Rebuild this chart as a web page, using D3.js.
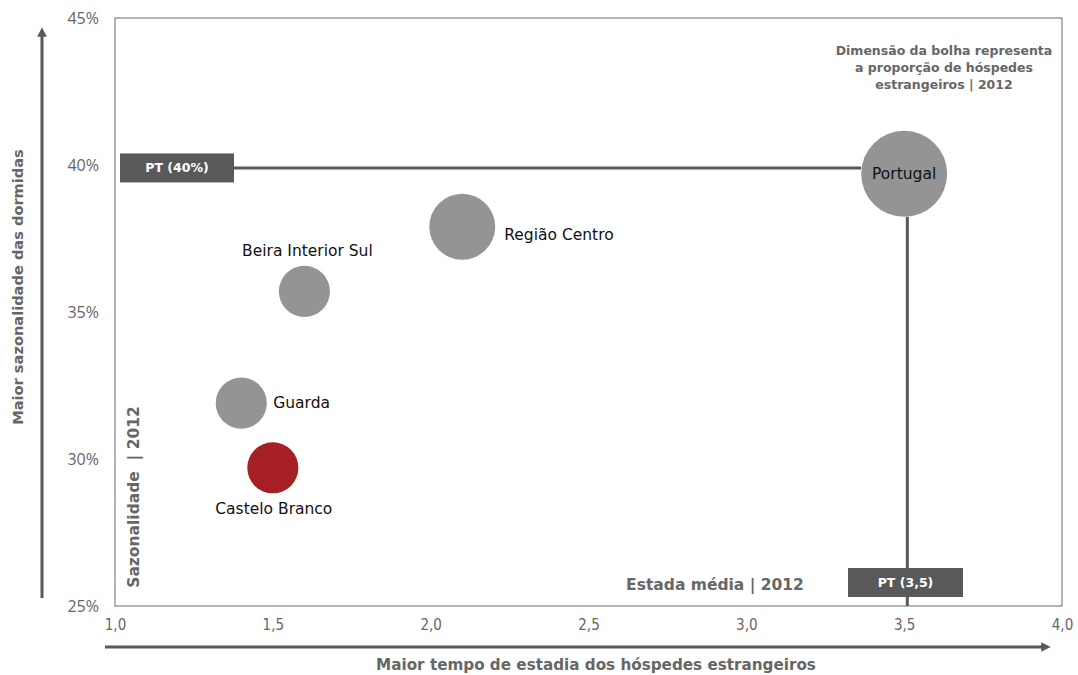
<!DOCTYPE html>
<html><head><meta charset="utf-8">
<script src="https://cdn.jsdelivr.net/npm/d3@7"></script>
<style>
body{margin:0;background:#fff;}
svg{display:block;}
</style></head>
<body>
<svg id="chart" width="1078" height="675"></svg>
<script>
// ---- data ----
const regions = ["Portugal", "Região Centro", "Beira Interior Sul", "Guarda", "Castelo Branco"];
const estadaMedia = [3.5, 2.1, 1.6, 1.4, 1.5];              // x
const sazonalidade = [39.7, 37.9, 35.7, 31.9, 29.7];        // y (%)
const propEstrangeiros = [51, 30, 18, 18, 18];              // bubble size (%)
const xTicks = [1.0, 1.5, 2.0, 2.5, 3.0, 3.5, 4.0];
const yTicks = [25, 30, 35, 40, 45];
const ptRefX = 3.51, ptRefY = 39.9;
const ptLabels = ["PT (40%)", "PT (3,5)"];

const svg = d3.select("#chart");
const L = 115, R = 1062, T = 18, B = 606;
const x = d3.scaleLinear().domain([1, 4]).range([L, R]);
const y = d3.scaleLinear().domain([25, 45]).range([B, T]);
const r = d3.scaleSqrt().domain([0, 51]).range([0, 43]);
const dark = "#595959", grey = "#666";
const fmt = d => d.toFixed(1).replace(".", ",");

// frame
svg.append("rect").attr("x", L).attr("y", T).attr("width", R - L).attr("height", B - T)
  .attr("fill", "none").attr("stroke", "#8c8c8c").attr("stroke-width", 1.3);

// axes
const xa = svg.append("g").attr("transform", `translate(0,${B})`)
  .call(d3.axisBottom(x).tickValues(xTicks).tickFormat(fmt).tickSize(0).tickPadding(13));
xa.select(".domain").remove();
xa.selectAll("text").attr("font-family", "DejaVu Sans Condensed, DejaVu Sans").attr("font-size", 15).attr("fill", grey);

const ya = svg.append("g").attr("transform", `translate(${L},0)`)
  .call(d3.axisLeft(y).tickValues(yTicks).tickFormat(d => d + "%").tickSize(0).tickPadding(16));
ya.select(".domain").remove();
ya.selectAll("text").attr("font-family", "Open Sans").attr("font-size", 16).attr("fill", grey);

// arrows
const defs = svg.append("defs");
defs.append("marker").attr("id", "ah").attr("viewBox", "0 0 10 10").attr("refX", 5).attr("refY", 5)
  .attr("markerWidth", 3.2).attr("markerHeight", 3.2).attr("orient", "auto")
  .append("path").attr("d", "M0,0 L10,5 L0,10 z").attr("fill", dark);
svg.append("line").attr("x1", 42).attr("x2", 42).attr("y1", 598).attr("y2", 32)
  .attr("stroke", dark).attr("stroke-width", 3).attr("marker-end", "url(#ah)");
svg.append("line").attr("x1", 105).attr("x2", 1046).attr("y1", 647).attr("y2", 647)
  .attr("stroke", dark).attr("stroke-width", 3).attr("marker-end", "url(#ah)");

// axis titles
svg.append("text").attr("x", 596).attr("y", 670).attr("text-anchor", "middle")
  .attr("font-family", "DejaVu Sans").attr("font-weight", "bold")
  .attr("font-size", 15.2).attr("fill", grey).text("Maior tempo de estadia dos hóspedes estrangeiros");
svg.append("text").attr("transform", "translate(23,287) rotate(-90)").attr("text-anchor", "middle")
  .attr("font-family", "DejaVu Sans").attr("font-weight", "bold")
  .attr("font-size", 14.6).attr("fill", grey).text("Maior sazonalidade das dormidas");

// reference lines
const pIdx = 0;
svg.append("line").attr("x1", x(1.37)).attr("x2", x(estadaMedia[pIdx]) - r(propEstrangeiros[pIdx]))
  .attr("y1", y(ptRefY)).attr("y2", y(ptRefY)).attr("stroke", dark).attr("stroke-width", 3);
svg.append("line").attr("x1", x(ptRefX)).attr("x2", x(ptRefX))
  .attr("y1", y(sazonalidade[pIdx]) + r(propEstrangeiros[pIdx])).attr("y2", B)
  .attr("stroke", dark).attr("stroke-width", 3);

// PT boxes
function ptBox(cx, cy, w, h, label) {
  svg.append("rect").attr("x", cx - w / 2).attr("y", cy - h / 2).attr("width", w).attr("height", h).attr("fill", dark);
  svg.append("text").attr("x", cx).attr("y", cy).attr("dy", "0.35em").attr("text-anchor", "middle")
    .attr("font-family", "DejaVu Sans").attr("font-weight", "bold").attr("font-size", 12.5)
    .attr("fill", "#fff").text(label);
}
ptBox(177, y(ptRefY), 114, 29, ptLabels[0]);
ptBox(905.5, 582.5, 115, 29, ptLabels[1]);

// bubbles
const data = regions.map((n, i) => ({ n, x: estadaMedia[i], y: sazonalidade[i], s: propEstrangeiros[i] }));
svg.selectAll("circle.b").data(data).enter().append("circle").attr("class", "b")
  .attr("cx", d => x(d.x)).attr("cy", d => y(d.y)).attr("r", d => r(d.s))
  .attr("fill", d => d.n === "Castelo Branco" ? "#a51f24" : "#949494");

// bubble labels
const lab = {
  "Portugal": { dx: 0, dy: 0, a: "middle" },
  "Região Centro": { dx: 42, dy: 8, a: "start" },
  "Beira Interior Sul": { dx: 3, dy: -41, a: "middle" },
  "Guarda": { dx: 32, dy: -1, a: "start" },
  "Castelo Branco": { dx: 1, dy: 41, a: "middle" }
};
svg.selectAll("text.bl").data(data).enter().append("text").attr("class", "bl")
  .attr("x", d => x(d.x) + lab[d.n].dx).attr("y", d => y(d.y) + lab[d.n].dy)
  .attr("dy", "0.35em").attr("text-anchor", d => lab[d.n].a)
  .attr("font-family", "DejaVu Sans").attr("font-size", 15.5).attr("fill", "#111").text(d => d.n);

// annotations
const note = ["Dimensão da bolha representa", "a proporção de hóspedes", "estrangeiros | 2012"];
svg.append("g").selectAll("text").data(note).enter().append("text")
  .attr("x", 944).attr("y", (d, i) => 55 + i * 17).attr("text-anchor", "middle")
  .attr("font-family", "DejaVu Sans").attr("font-weight", "bold").attr("font-size", 12.5)
  .attr("fill", grey).text(d => d);
svg.append("text").attr("x", 715).attr("y", 590).attr("text-anchor", "middle")
  .attr("font-family", "DejaVu Sans").attr("font-weight", "bold").attr("font-size", 15.5)
  .attr("fill", grey).text("Estada média | 2012");
svg.append("text").attr("transform", "translate(139,497) rotate(-90)").attr("text-anchor", "middle")
  .attr("font-family", "DejaVu Sans").attr("font-weight", "bold").attr("font-size", 15.5)
  .attr("fill", grey).attr("xml:space", "preserve").style("white-space", "pre").text("Sazonalidade  | 2012");
</script>
</body></html>
